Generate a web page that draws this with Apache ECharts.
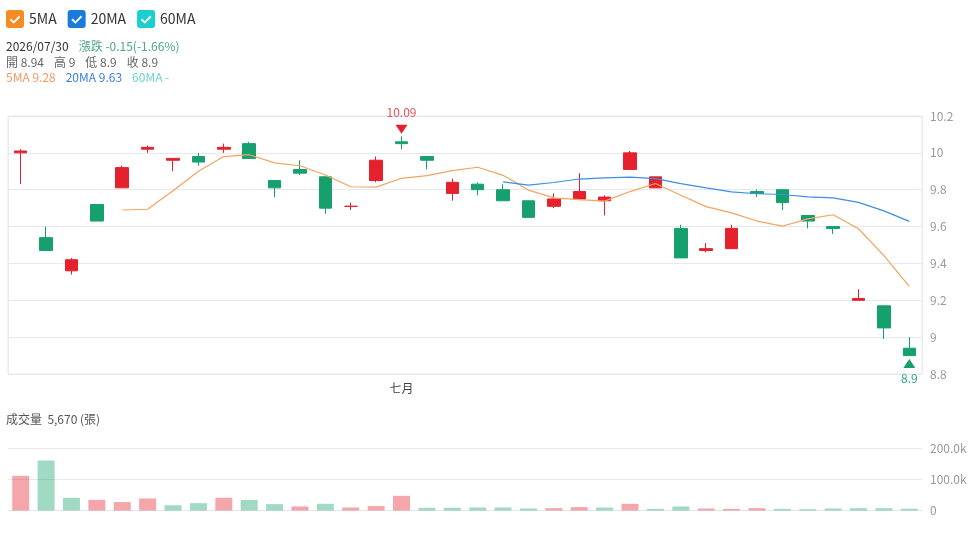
<!DOCTYPE html>
<html lang="zh-Hant">
<head>
<meta charset="UTF-8">
<title>K線</title>
<script src="https://cdn.jsdelivr.net/npm/echarts@6/dist/echarts.min.js"></script>
<style>
  html, body { margin: 0; padding: 0; background: #fff; }
  #app { width: 973px; height: 534px; }
</style>
</head>
<body>
<div id="app"></div>
<script>
// 日期
var dates = [
  '2026/06/09', '2026/06/10', '2026/06/11', '2026/06/12', '2026/06/15', '2026/06/16',
  '2026/06/17', '2026/06/18', '2026/06/22', '2026/06/23', '2026/06/24', '2026/06/25',
  '2026/06/26', '2026/06/29', '2026/06/30', '2026/07/01', '2026/07/02', '2026/07/03',
  '2026/07/06', '2026/07/07', '2026/07/08', '2026/07/09', '2026/07/10', '2026/07/13',
  '2026/07/14', '2026/07/15', '2026/07/16', '2026/07/17', '2026/07/20', '2026/07/21',
  '2026/07/22', '2026/07/23', '2026/07/27', '2026/07/28', '2026/07/29', '2026/07/30'
];
var opens = [10.00, 9.54, 9.36, 9.72, 9.81, 10.02, 9.96, 9.98, 10.02, 10.05, 9.85, 9.91,
  9.87, 9.71, 9.85, 10.06, 9.98, 9.78, 9.83, 9.80, 9.74, 9.71, 9.75, 9.74,
  9.91, 9.81, 9.59, 9.47, 9.48, 9.79, 9.80, 9.66, 9.60, 9.20, 9.17, 8.94];
var closes = [10.01, 9.47, 9.42, 9.63, 9.92, 10.03, 9.97, 9.95, 10.03, 9.97, 9.81, 9.89,
  9.70, 9.71, 9.96, 10.05, 9.96, 9.84, 9.80, 9.74, 9.65, 9.75, 9.79, 9.76,
  10.00, 9.87, 9.43, 9.48, 9.59, 9.78, 9.73, 9.63, 9.59, 9.21, 9.05, 8.90];
var lows = [9.83, 9.47, 9.34, 9.63, 9.81, 10.00, 9.90, 9.93, 10.00, 9.97, 9.76, 9.88,
  9.67, 9.69, 9.84, 10.02, 9.91, 9.74, 9.77, 9.74, 9.65, 9.70, 9.75, 9.66,
  9.91, 9.81, 9.43, 9.46, 9.48, 9.76, 9.69, 9.59, 9.56, 9.20, 8.99, 8.90];
var highs = [10.02, 9.60, 9.43, 9.72, 9.93, 10.04, 9.97, 10.00, 10.05, 10.06, 9.85, 9.96,
  9.87, 9.73, 9.98, 10.09, 9.98, 9.86, 9.84, 9.83, 9.74, 9.78, 9.89, 9.77,
  10.01, 9.87, 9.61, 9.51, 9.61, 9.80, 9.80, 9.66, 9.60, 9.26, 9.17, 9.00];
var ma5 = [null, null, null, null, 9.690, 9.694, 9.794, 9.900, 9.980, 9.990, 9.946, 9.930,
  9.880, 9.816, 9.814, 9.862, 9.876, 9.904, 9.922, 9.878, 9.798, 9.756, 9.746, 9.738,
  9.790, 9.834, 9.770, 9.708, 9.674, 9.630, 9.602, 9.642, 9.664, 9.588, 9.442, 9.276];
var ma20 = [null, null, null, null, null, null, null, null, null, null, null, null,
  null, null, null, null, null, null, null, 9.843, 9.825, 9.839, 9.858, 9.864,
  9.868, 9.860, 9.833, 9.810, 9.788, 9.778, 9.774, 9.761, 9.756, 9.731, 9.685, 9.628];
var ma60 = dates.map(function () { return null; });
// 成交量 (張)
var volumes = [111000, 160000, 40700, 34000, 27000, 38500, 17000, 23500, 40700, 34000, 20500, 13000,
  21500, 9600, 14000, 47000, 8600, 8600, 9600, 9600, 6400, 7500, 10700, 9600,
  21400, 5300, 12800, 6400, 5300, 7500, 5300, 4300, 6400, 7500, 7500, 5670];
var priceTicks = { min: 8.8, max: 10.2, interval: 0.2 };
var volTicks = { min: 0, max: 200000, interval: 100000 };
var monthNames = ['一月', '二月', '三月', '四月', '五月', '六月', '七月', '八月', '九月', '十月', '十一月', '十二月'];

var UP = '#e4212d', DOWN = '#16a06e';
var FONT = '"Noto Sans CJK TC", "Noto Sans", sans-serif';

var kData = dates.map(function (d, i) { return [opens[i], closes[i], lows[i], highs[i]]; });
var volData = volumes.map(function (v, i) {
  var up = i === 0 || closes[i] >= closes[i - 1];
  return { value: v, itemStyle: { color: up ? UP : DOWN, opacity: 0.4 } };
});

function month(d) { return parseInt(d.split('/')[1], 10); }
function newMonth(idx) { return idx > 0 && month(dates[idx]) !== month(dates[idx - 1]); }
function num(v) { return String(Number(v.toFixed(2))); }

var last = dates.length - 1;
var chg = closes[last] - closes[last - 1];
var pct = chg / closes[last - 1] * 100;
var hiIdx = highs.indexOf(Math.max.apply(null, highs));
var loIdx = lows.indexOf(Math.min.apply(null, lows));

var checkIcon = 'path://M3,0 H15 Q18,0 18,3 V15 Q18,18 15,18 H3 Q0,18 0,15 V3 Q0,0 3,0 Z ' +
  'M5,8.6 L3.7,9.9 L7.8,13.8 L14.4,6.9 L13.1,5.6 L7.8,11.2 Z';

var header = [
  '{d|' + dates[last] + '}{g|漲跌 ' + chg.toFixed(2) + '(' + pct.toFixed(2) + '%)}',
  '{k|開 ' + num(opens[last]) + '}{k|高 ' + num(highs[last]) + '}{k|低 ' + num(lows[last]) + '}{k|收 ' + num(closes[last]) + '}',
  '{o|5MA ' + ma5[last].toFixed(2) + '}{b|20MA ' + ma20[last].toFixed(2) + '}{c|60MA ' + (ma60[last] == null ? '-' : ma60[last].toFixed(2)) + '}'
].join('\n');

function rs(color, pad) {
  return { color: color, fontSize: 12, lineHeight: 15.5, fontFamily: FONT, padding: [0, pad, 0, 0] };
}

var myChart = echarts.init(document.getElementById('app'));
var option = {
  animation: false,
  textStyle: { fontFamily: FONT },
  legend: {
    left: 6, top: 10, padding: 0,
    itemWidth: 18, itemHeight: 18, itemGap: 11,
    icon: checkIcon,
    textStyle: { fontSize: 14, color: '#333', fontFamily: FONT },
    data: ['5MA', '20MA', '60MA']
  },
  title: [
    {
      left: 6, top: 39, padding: 0,
      text: header,
      textStyle: {
        fontSize: 12, lineHeight: 15.5, fontWeight: 'normal',
        rich: {
          d: rs('#333', 10), g: rs('#4da983', 0),
          k: rs('#666', 10),
          o: rs('#f39a62', 10), b: rs('#3b7fe0', 10), c: rs('#6ad2d2', 0)
        }
      }
    },
    {
      left: 6, top: 411, padding: 0,
      text: '成交量  ' + volumes[last].toLocaleString('en-US') + ' (張)',
      textStyle: { fontSize: 12, lineHeight: 16, fontWeight: 'normal', color: '#555', fontFamily: FONT }
    }
  ],
  grid: [
    { left: 8, right: 51, top: 116, height: 258, show: true, borderColor: '#e6e8ef', borderWidth: 1 },
    { left: 8, right: 51, top: 448, height: 62.5 }
  ],
  xAxis: [
    {
      type: 'category', gridIndex: 0, data: dates, boundaryGap: true,
      axisLine: { show: false },
      axisTick: { show: false },
      axisLabel: {
        interval: function (idx) { return newMonth(idx); },
        formatter: function (v) { return monthNames[month(v) - 1]; },
        color: '#444', fontSize: 12, margin: 8
      },
      splitLine: {
        show: true,
        interval: function (idx) { return newMonth(idx); },
        lineStyle: { color: '#e9ebf1' }
      }
    },
    {
      type: 'category', gridIndex: 1, data: dates, boundaryGap: true,
      axisLine: { show: true, lineStyle: { color: '#e3e6ec' } },
      axisTick: { show: false },
      axisLabel: { show: false },
      splitLine: { show: false }
    }
  ],
  yAxis: [
    {
      type: 'value', gridIndex: 0, position: 'right', scale: true,
      min: priceTicks.min, max: priceTicks.max, interval: priceTicks.interval,
      axisLine: { show: false }, axisTick: { show: false },
      axisLabel: { color: '#9a9a9a', fontSize: 12, margin: 8 },
      splitLine: { lineStyle: { color: '#e6e8ef' } }
    },
    {
      type: 'value', gridIndex: 1, position: 'right',
      min: volTicks.min, max: volTicks.max, interval: volTicks.interval,
      axisLine: { show: false }, axisTick: { show: false },
      axisLabel: {
        color: '#9a9a9a', fontSize: 12, margin: 8,
        formatter: function (v) { return v === 0 ? '0' : (v / 1000).toFixed(1) + 'k'; }
      },
      splitLine: { lineStyle: { color: '#e6e8ef' } }
    }
  ],
  series: [
    {
      name: 'K', type: 'candlestick', xAxisIndex: 0, yAxisIndex: 0,
      data: kData, barWidth: 13,
      itemStyle: { color: UP, color0: DOWN, borderColor: UP, borderColor0: DOWN, borderWidth: 1 },
      markPoint: {
        silent: true,
        data: [
          {
            coord: [hiIdx, highs[hiIdx]], value: highs[hiIdx],
            symbol: 'path://M0,0 L12,0 L6,9 Z', symbolSize: [12, 9], symbolOffset: [0, -7],
            itemStyle: { color: UP },
            label: { show: true, position: 'top', distance: 6, color: '#e8535a', fontSize: 12,
              formatter: function (p) { return num(p.value); } }
          },
          {
            coord: [loIdx, lows[loIdx]], value: lows[loIdx],
            symbol: 'path://M6,0 L12,9 L0,9 Z', symbolSize: [12, 9], symbolOffset: [0, 8],
            itemStyle: { color: DOWN },
            label: { show: true, position: 'bottom', distance: 4, color: '#2ea77c', fontSize: 12,
              formatter: function (p) { return num(p.value); } }
          }
        ]
      }
    },
    {
      name: '5MA', type: 'line', xAxisIndex: 0, yAxisIndex: 0, data: ma5,
      showSymbol: false, symbol: 'none', connectNulls: false,
      itemStyle: { color: '#f58b23' },
      lineStyle: { color: '#f5a35e', width: 1.2 }
    },
    {
      name: '20MA', type: 'line', xAxisIndex: 0, yAxisIndex: 0, data: ma20,
      showSymbol: false, symbol: 'none',
      itemStyle: { color: '#1a7bdc' },
      lineStyle: { color: '#3d8fe0', width: 1.2 }
    },
    {
      name: '60MA', type: 'line', xAxisIndex: 0, yAxisIndex: 0, data: ma60,
      showSymbol: false, symbol: 'none',
      itemStyle: { color: '#1ccfcf' },
      lineStyle: { color: '#4fd6d6', width: 1.2 }
    },
    {
      name: '成交量', type: 'bar', xAxisIndex: 1, yAxisIndex: 1,
      data: volData, barWidth: 17
    }
  ]
};
myChart.setOption(option);
</script>
</body>
</html>
